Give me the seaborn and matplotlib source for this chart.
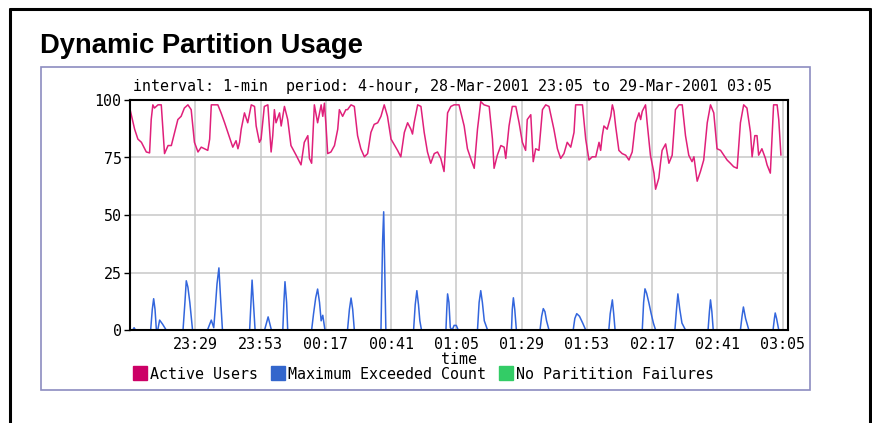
import matplotlib
matplotlib.use('Agg')
import matplotlib.pyplot as plt
import seaborn as sns
import pandas as pd
from matplotlib.lines import Line2D
from matplotlib.patches import Rectangle

# --- 資料 (由圖讀取, 分鐘自 28-Mar-2001 23:05 起算) ---
active_min = [0, 1.7, 2.9, 4.2, 4.8, 6, 7.2, 7.8, 8.4, 9, 10.3, 11.5, 12.7, 14, 15.2, 16.4, 17.6, 18.8,
              20, 21.3, 22.5, 23.7, 25, 26.2, 28.6, 29.3, 29.9, 32.3, 33.5, 34.8, 36, 37.2, 37.8, 39,
              39.7, 40.3, 40.9, 42.1, 43.3, 44.6, 45.8, 46.4, 47.6, 48.2, 49.4, 50.7, 51.3, 51.9, 52.5,
              53.1, 53.7, 55, 55.6, 56.8, 58, 59.2, 61.1, 62.9, 64.1, 65.4, 66, 66.8, 67.8, 69, 70.3,
              70.9, 71.5, 72.1, 72.7, 73.9, 75.2, 76.4, 77, 78.2, 79.4, 80, 81.3, 82.5, 83.7, 84.9,
              86.2, 87.4, 88.6, 89.8, 91.1, 92.3, 93.5, 94.7, 96, 98.4, 99.6, 100.9, 102.1, 103.3,
              103.9, 104.5, 105.8, 107, 108.2, 109.4, 110.6, 111.9, 113.1, 114.3, 115.5, 116.8, 118,
              119.2, 121, 122.9, 124.1, 125.3, 126.6, 127.8, 129, 130.2, 132.1, 133.3, 133.9, 135.1,
              136.4, 137.6, 138.2, 139.4, 140.6, 141.9, 143.1, 144.3, 145.5, 146.1, 147.4, 148.3,
              149.2, 150.4, 151.7, 152.9, 154.1, 155.9, 157.2, 158.4, 159.6, 160.8, 162.1, 163.3,
              163.9, 166.4, 167.6, 168.8, 170, 171.3, 172.5, 173.1, 173.7, 174.3, 175.5, 176.8, 177.4,
              178, 178.6, 179.8, 181, 182.3, 183.5, 184.7, 185.9, 187.2, 187.8, 188.4, 189.6, 190.2,
              191.4, 192.7, 193.3, 194.5, 195.1, 195.7, 197, 198.2, 199.4, 200.6, 201.9, 203.1, 204.3,
              205.5, 206.7, 207.4, 208.6, 209.8, 211, 212.3, 213.5, 214.7, 215.9, 217.2, 218.4, 219.6,
              220.8, 222, 223.3, 224.5, 225.7, 226.9, 228.2, 228.8, 229.8, 230.6, 231.2, 232.4, 233.7,
              234.3, 235.5, 236.7, 238, 238.6, 239.4]
active_val = [96, 87.3, 83, 81.6, 80.2, 77.4, 77, 91.5, 97.9, 96.5, 97.9, 97.9, 76.7, 80.2, 80.2, 85.9,
              91.5, 92.9, 96.5, 97.9, 95.8, 81.6, 77.4, 79.5, 78.1, 83, 97.9, 97.9, 94.4, 90.1, 85.9,
              81.6, 79.5, 82.3, 78.8, 81.6, 87.3, 94.4, 90.1, 97.9, 97.2, 88.7, 81.6, 83, 97.2, 97.9,
              87.3, 77.4, 84.5, 95.8, 90.1, 94.4, 88.7, 97.2, 91.5, 80.2, 76, 71.8, 81.6, 84.5, 74.6,
              72.5, 97.9, 90.1, 97.9, 92.9, 98.6, 88.7, 76.7, 77.4, 80.2, 87.3, 95.8, 92.9, 95.8, 95.8,
              97.9, 97.2, 84.5, 78.8, 75.3, 76.7, 85.9, 89.4, 90.1, 92.9, 97.9, 92.9, 83, 78.1, 75.3,
              85.9, 90.1, 87.3, 85.2, 90.1, 97.9, 97.2, 85.9, 77.4, 72.5, 76.7, 77.4, 74.6, 68.9, 94.4,
              97.2, 97.9, 97.9, 88.7, 78.8, 74.6, 70.3, 87.3, 99.3, 97.9, 97.2, 83, 70.3, 76, 80.2,
              79.5, 74.6, 88.7, 97.2, 97.2, 90.1, 81.6, 78.1, 91.5, 93.6, 73.2, 78.8, 78.1, 95.8, 97.9,
              97.2, 87.3, 78.8, 74.6, 76.7, 81.6, 79.5, 85.9, 97.9, 97.9, 83, 73.9, 75.3, 75.3, 81.6,
              78.1, 84.5, 88.7, 87.3, 92.9, 97.9, 95.1, 88.7, 78.1, 76.7, 76, 73.9, 77.4, 90.1, 94.4,
              91.5, 95.1, 97.9, 90.1, 76, 68.2, 61.2, 66.1, 72.5, 78.1, 80.9, 72.5, 76, 95.8, 97.9,
              97.9, 84.5, 76, 73.2, 75.3, 64.7, 68.9, 73.9, 90.1, 97.9, 94.4, 78.8, 78.1, 76, 73.9,
              72.5, 71, 70.3, 90.1, 97.9, 96.5, 85.9, 75.3, 84.5, 84.5, 76, 78.8, 74.6, 71.8, 68.2,
              97.9, 97.9, 91.5, 76]

exceed_min = [0, 1, 1.5, 2, 7.6, 8.2, 8.7, 9.2, 9.7, 10.2, 10.9, 12, 13.3, 19.5, 20.2, 20.7, 21.3, 22,
              23, 28.5, 29.9, 30.8, 31.4, 32, 32.7, 33.3, 34, 44, 44.5, 44.9, 45.4, 46, 49.5, 50.8, 52,
              56.2, 56.6, 57, 57.6, 58, 66.8, 67.5, 68.3, 69, 69.7, 70.3, 70.9, 71.7, 80, 80.7, 81.3,
              81.9, 82.5, 92.3, 92.5, 92.9, 93.3, 93.7, 94.1, 104.3, 104.9, 105.5, 106.1, 106.6, 107.2,
              116.2, 116.5, 116.8, 117.3, 117.8, 118.5, 119.2, 120, 120.7, 127.8, 128.4, 129, 129.6,
              130.3, 131.5, 140.3, 140.6, 141, 141.5, 142.1, 150.8, 151.4, 152, 152.6, 153.2, 154.1,
              163, 163.6, 164.3, 165.3, 166.5, 167.6, 176.1, 176.6, 177.4, 177.9, 178.4, 188.4, 188.9,
              189.4, 190, 190.8, 191.7, 192.5, 193.3, 200.4, 201, 201.5, 202.2, 203, 204.3, 212.6,
              213.1, 213.5, 214, 214.5, 224.5, 225.1, 225.6, 226.4, 227.6, 236.5, 237, 237.3, 237.8,
              238.6, 240]
exceed_val = [0, 0, 1, 0, 0, 9, 13.6, 9, 0, 0, 4.3, 2.5, 0, 0, 12, 21.4, 18.6, 12, 0, 0, 4.3, 1, 10, 20,
              27, 14, 0, 0, 12, 21.7, 12, 0, 0, 5.7, 0, 0, 12, 21, 12, 0, 0, 7, 14, 17.8, 12, 4, 6.4, 0,
              0, 9, 13.9, 9, 0, 0, 12.9, 38.6, 51.4, 25, 0, 0, 11, 17.1, 11, 4, 0, 0, 9, 15.7, 12, 1, 0,
              2, 2, 0, 0, 12, 17.1, 12, 4, 0, 0, 9, 14, 9, 0, 0, 6, 9.3, 8, 4, 0, 0, 5, 7.1, 6, 3, 0, 0,
              7, 13.1, 7, 0, 0, 12, 17.9, 16, 12, 7, 3, 0, 0, 9, 15.7, 9, 3, 0, 0, 8, 13.1, 8, 0, 0, 6,
              10, 5, 0, 0, 5, 7.4, 5, 0, 0]

tick_min = [24, 48, 72, 96, 120, 144, 168, 192, 216, 240]
tick_labels = ['23:29', '23:53', '00:17', '00:41', '01:05', '01:29', '01:53', '02:17', '02:41', '03:05']
y_ticks = [0, 25, 50, 75, 100]
series_names = ['Active Users', 'Maximum Exceeded Count', 'No Paritition Failures']
series_colors = ['#cc0066', '#3366cc', '#33cc66']

# --- 畫圖 ---
sns.set_style('white')
plt.rcParams['font.family'] = ['DejaVu Sans Mono']
plt.rcParams['text.color'] = 'black'
plt.rcParams['axes.labelcolor'] = 'black'
FS = 10.8

W, H = 872, 423
fig = plt.figure(figsize=(W / 100, H / 100), dpi=100)
ax = fig.add_axes([130 / W, 1 - 330 / H, (788 - 130) / W, (330 - 100) / H])

df_active = pd.DataFrame({'minute': active_min, 'value': active_val})
df_exceed = pd.DataFrame({'minute': exceed_min, 'value': exceed_val})
sns.lineplot(data=df_active, x='minute', y='value', color='#e0207a', lw=1.1, ax=ax, estimator=None, sort=False)
sns.lineplot(data=df_exceed, x='minute', y='value', color='#3366dd', lw=1.1, ax=ax, estimator=None, sort=False)

ax.set_xlim(0, 242); ax.set_ylim(0, 100)
ax.set_xticks(tick_min); ax.set_xticklabels(tick_labels)
ax.set_yticks(y_ticks); ax.set_yticklabels([str(v) for v in y_ticks])
ax.grid(True, color='#c8c8c8', lw=1.1); ax.set_axisbelow(True)
ax.tick_params(axis='x', length=0, pad=5, labelsize=FS, colors='black')
ax.tick_params(axis='y', length=4, width=1, pad=2, labelsize=FS, colors='black', left=True)
ax.set_xlabel('time', fontsize=FS, labelpad=0); ax.set_ylabel('')
for s in ax.spines.values():
    s.set_color('black'); s.set_linewidth(1.5); s.set_visible(True)

fig.text(133 / W, 1 - 87 / H, 'interval: 1-min  period: 4-hour, 28-Mar-2001 23:05 to 29-Mar-2001 03:05',
         fontsize=FS, va='center', ha='left')
fig.text(40 / W, 1 - 53 / H, 'Dynamic Partition Usage', fontsize=19.7, fontweight='bold', color='black',
         family=['Liberation Sans', 'DejaVu Sans'], va='baseline', ha='left')

handles = [Line2D([], [], marker='s', ls='', markersize=10, markerfacecolor=c, markeredgecolor=c) for c in series_colors]
fig.legend(handles, series_names, loc='center left', bbox_to_anchor=(132 / W, 1 - 374 / H), ncol=3, frameon=False,
           handlelength=1.0, handletextpad=0.2, columnspacing=0.8, borderaxespad=0, borderpad=0,
           prop={'family': 'DejaVu Sans Mono', 'size': FS})

# 外框與內框
fig.add_artist(Rectangle((41 / W, 1 - 390 / H), (810 - 41) / W, (390 - 67) / H, fill=False,
                         ec='#8c8cc0', lw=1.2, transform=fig.transFigure))
for xs, ys in [([9.5, 9.5], [H, 9.5]), ([9.5, 869.5], [9.5, 9.5]), ([869.5, 869.5], [9.5, H])]:
    fig.add_artist(Line2D([x / W for x in xs], [1 - y / H for y in ys], color='black', lw=2.2,
                          transform=fig.transFigure))

fig.savefig('out.png', dpi=100)
